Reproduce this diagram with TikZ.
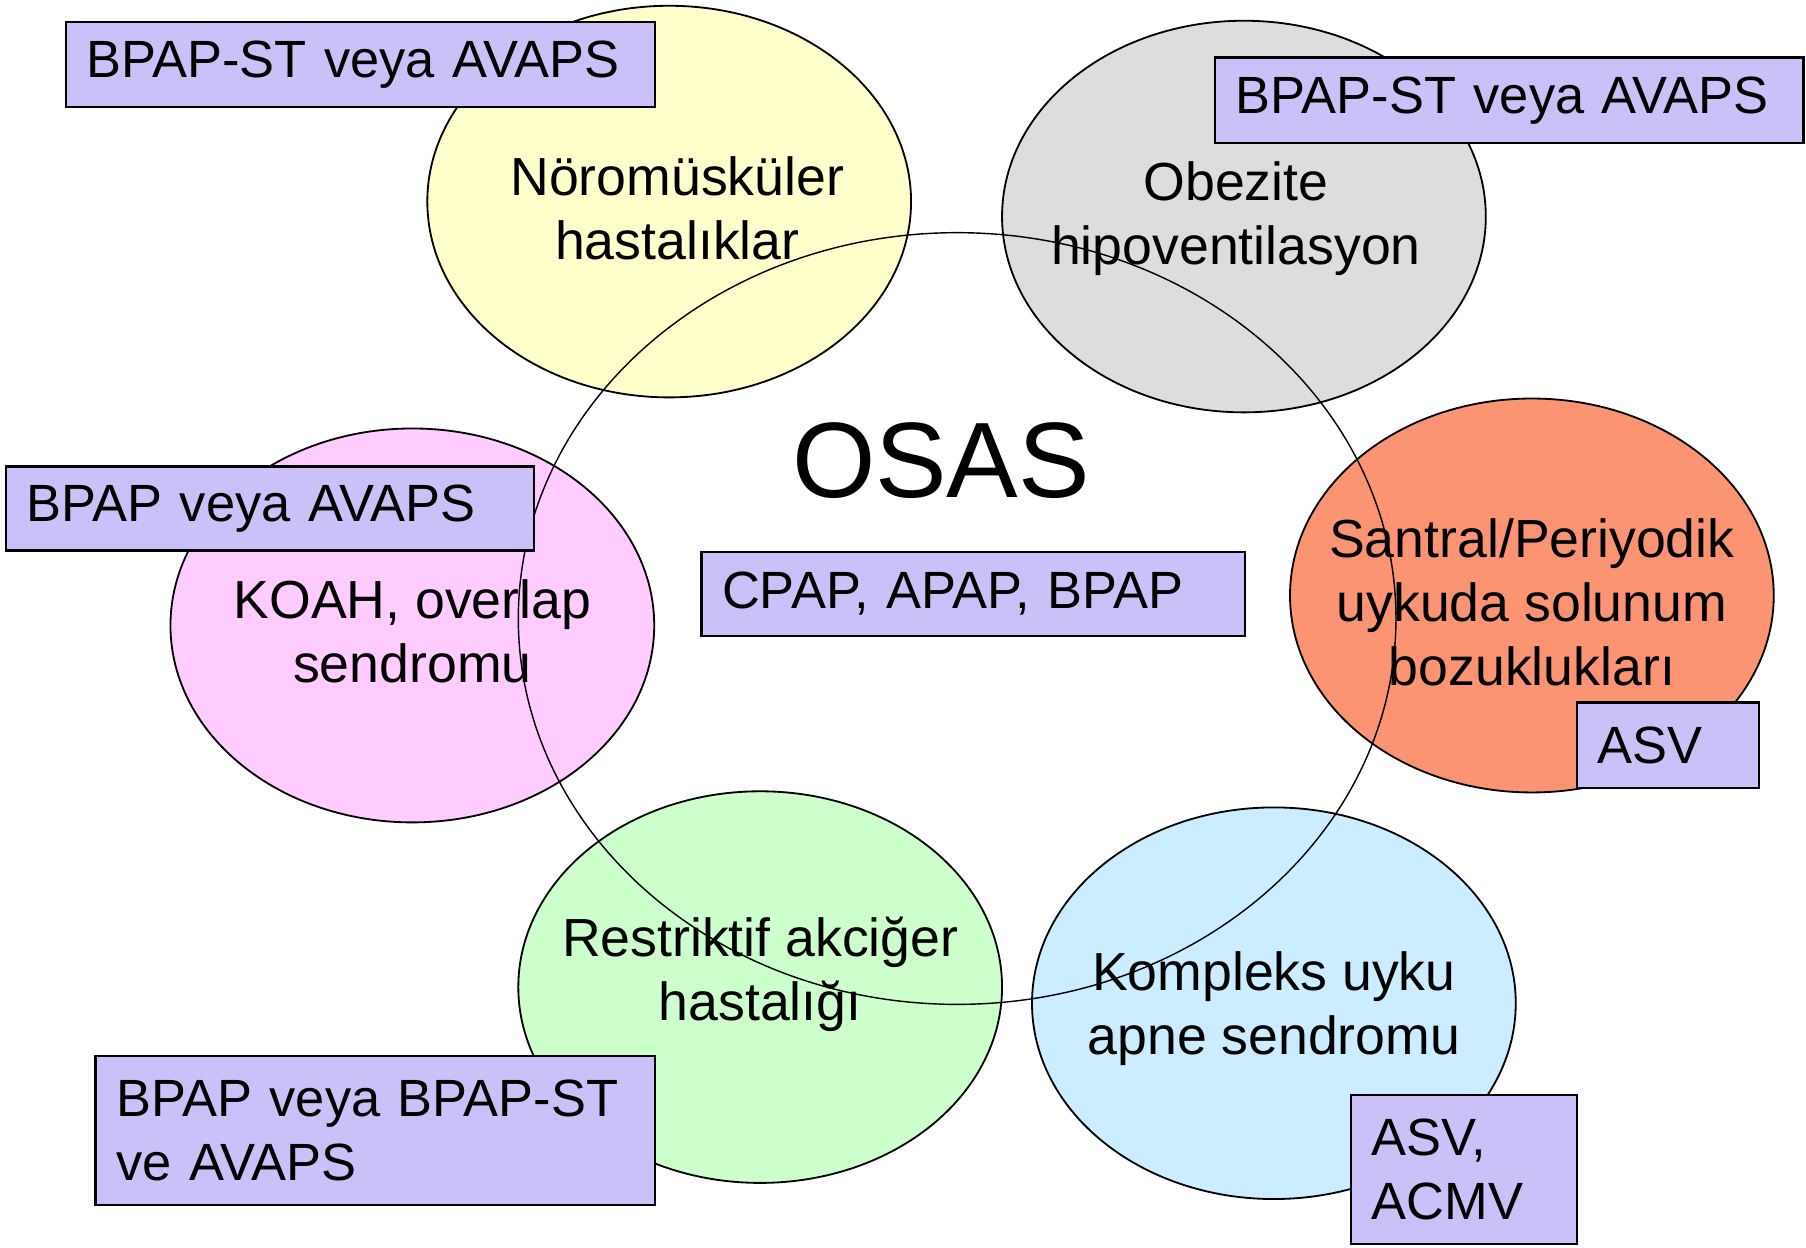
\documentclass[tikz,border=0pt]{standalone}
\usepackage{fontspec}
\setmainfont{Liberation Sans}

\definecolor{noroyellow}{RGB}{255,255,204}
\definecolor{obezgray}{RGB}{221,221,221}
\definecolor{koahpink}{RGB}{255,204,255}
\definecolor{santralorange}{RGB}{250,148,115}
\definecolor{restgreen}{RGB}{204,255,204}
\definecolor{kompleksblue}{RGB}{204,236,255}
\definecolor{therapyfill}{RGB}{203,192,247}

\tikzset{
  bubble/.style={draw=black, line width=0.9pt},
  bubbletext/.style={align=center, font=\fontsize{26.5}{31.5}\selectfont},
  therapy/.style={draw=black, line width=1.1pt, fill=therapyfill, anchor=north west,
    align=left, inner xsep=0.36cm, inner ysep=0pt, font=\fontsize{25.9}{31.5}\selectfont},
}

\begin{document}
\begin{tikzpicture}[x=0.02cm, y=-0.02cm]
\useasboundingbox (0,0) rectangle (1568,1083);
% Draw the six coloured ellipses
\draw[bubble, fill=noroyellow] (581,175) ellipse (210 and 170);
\draw[bubble, fill=obezgray] (1080,188) ellipse (210 and 170);
\draw[bubble, fill=koahpink] (358,543) ellipse (210 and 171);
\draw[bubble, fill=santralorange] (1330,517) ellipse (210 and 171);
\draw[bubble, fill=restgreen] (660,857) ellipse (210 and 170);
\draw[bubble, fill=kompleksblue] (1106,871) ellipse (210 and 170);
% Place the disease names inside the ellipses
\node[bubbletext] (noro) at (588,181) {Nöromüsküler\\hastalıklar};
\node[bubbletext] (obez) at (1073,190) {Obezite\\hipoventilasyon};
\node[bubbletext] (koah) at (358,548) {KOAH, overlap\\sendromu};
\node[bubbletext] (santral) at (1330,523) {Santral/Periyodik\\uykuda solunum\\bozuklukları};
\node[bubbletext] (rest) at (660,846) {Restriktif akciğer\\hastalığı};
\node[bubbletext] (kompleks) at (1106,876) {Kompleks uyku\\apne sendromu};
% Draw the large OSAS ellipse over everything
\draw[line width=0.7pt] (831,537) ellipse (381 and 335);
\node[font=\fontsize{53}{60}\selectfont] (osas) at (817,400) {OSAS};
% Place the therapy boxes on top
\node[therapy, text width=9.52cm, minimum height=1.48cm] (tnoro) at (56,18) {BPAP-ST veya AVAPS};
\node[therapy, text width=9.50cm, minimum height=1.48cm] (tobez) at (1054,49) {BPAP-ST veya AVAPS};
\node[therapy, text width=8.46cm, minimum height=1.46cm] (tkoah) at (4,404) {BPAP veya AVAPS};
\node[therapy, text width=8.72cm, minimum height=1.46cm] (tosas) at (608,478) {CPAP, APAP, BPAP};
\node[therapy, text width=2.44cm, minimum height=1.48cm] (tsantral) at (1368,609) {ASV};
\node[therapy, text width=9.00cm, minimum height=2.58cm] (trest) at (82,916) {BPAP veya BPAP-ST\\ve AVAPS};
\node[therapy, text width=3.20cm, minimum height=2.58cm] (tkompleks) at (1172,950) {ASV,\\ACMV};
\end{tikzpicture}
\end{document}
